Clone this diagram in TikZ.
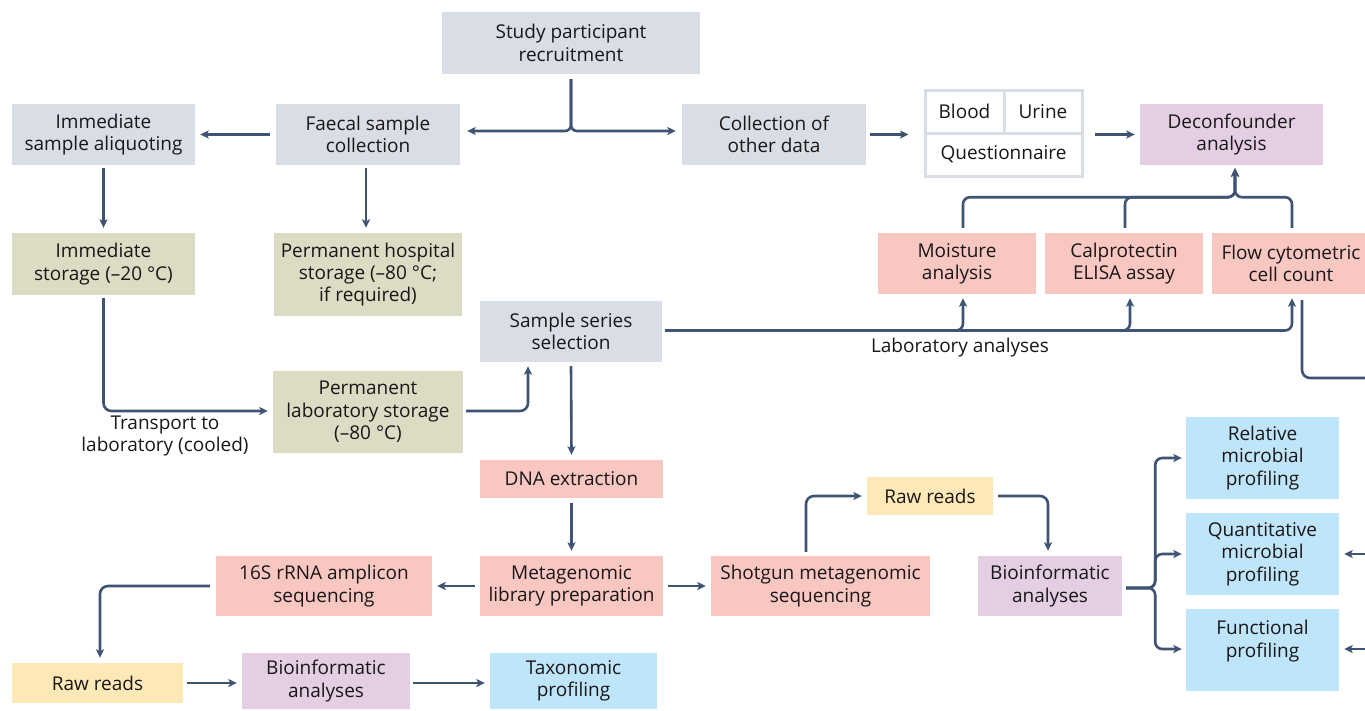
\documentclass[tikz,border=0pt]{standalone}
\usepackage{fontspec}
\setmainfont{Open Sans}
\usetikzlibrary{arrows.meta,calc}
\definecolor{cgray}{HTML}{D9DDE6}
\definecolor{khaki}{HTML}{DCDBC3}
\definecolor{salmon}{HTML}{F9C7C1}
\definecolor{lav}{HTML}{E3CEE4}
\definecolor{cyell}{HTML}{FDE8B8}
\definecolor{cblue}{HTML}{BEE5F9}
\definecolor{ln}{HTML}{3F5373}
\definecolor{txt}{HTML}{1A1718}
\begin{document}
\begin{tikzpicture}[x=1pt,y=-1pt,
  box/.style={inner sep=0pt, align=center, text=txt, font=\fontsize{19}{22.3}\selectfont},
  lbl/.style={inner sep=0pt, align=center, text=txt, font=\fontsize{19}{22.3}\selectfont},
  cell/.style={box, draw=cgray, line width=3pt},
  arr/.style={draw=ln, line width=2.6pt, -{Stealth[length=8.5pt,width=8pt,inset=2pt]}},
  ln/.style={draw=ln, line width=2.6pt}]
\useasboundingbox (0,0) rectangle (1365,710);
\fill[white] (0,0) rectangle (1365,710);

% nodes
\node[box, fill=cgray, minimum width=258, minimum height=62] (study) at (571,43) {Study participant\\recruitment};
\node[box, fill=cgray, minimum width=183, minimum height=61] (aliq) at (103.5,134.5) {Immediate\\sample aliquoting};
\node[box, fill=cgray, minimum width=184, minimum height=61] (faecal) at (368,134.5) {Faecal sample\\collection};
\node[box, fill=cgray, minimum width=184, minimum height=61] (other) at (774,134.5) {Collection of\\other data};
\node[cell, minimum width=79, minimum height=43] (blood) at (964.5,111.5) {Blood};
\node[cell, minimum width=78, minimum height=43] (urine) at (1043,111.5) {Urine};
\node[cell, minimum width=157, minimum height=43] (quest) at (1003.5,154.5) {Questionnaire};
\node[box, fill=lav, minimum width=183, minimum height=61] (deconf) at (1231.5,134.5) {Deconfounder\\analysis};
\node[box, fill=khaki, minimum width=183, minimum height=62] (istore) at (103.5,264) {Immediate\\storage (–20 °C)};
\node[box, fill=khaki, minimum width=188, minimum height=83] (hstore) at (368,274.5) {Permanent hospital\\storage (–80 °C;\\if required)};
\node[box, fill=salmon, minimum width=158, minimum height=61] (moist) at (957,263.5) {Moisture\\analysis};
\node[box, fill=salmon, minimum width=158, minimum height=61] (calpro) at (1124,263.5) {Calprotectin\\ELISA assay};
\node[box, fill=salmon, minimum width=158, minimum height=61] (flow) at (1291,263.5) {Flow cytometric\\cell count};
\node[box, fill=cgray, minimum width=182, minimum height=61] (series) at (571,331.5) {Sample series\\selection};
\node[lbl] (labl) at (960,348) {Laboratory analyses};
\node[box, fill=khaki, minimum width=190, minimum height=82] (lstore) at (368,412) {Permanent\\laboratory storage\\(–80 °C)};
\node[lbl] (transp) at (165,436) {Transport to\\laboratory (cooled)};
\node[box, fill=salmon, minimum width=183, minimum height=38] (dna) at (571.5,479) {DNA extraction};
\node[box, fill=salmon, minimum width=183, minimum height=60] (meta) at (571.5,586) {Metagenomic\\library preparation};
\node[box, fill=salmon, minimum width=216, minimum height=60] (s16) at (324,586) {16S rRNA amplicon\\sequencing};
\node[box, fill=salmon, minimum width=219, minimum height=60] (shot) at (820.5,586) {Shotgun metagenomic\\sequencing};
\node[box, fill=cyell, minimum width=126, minimum height=38] (raw1) at (930,496) {Raw reads};
\node[box, fill=lav, minimum width=144, minimum height=60] (bio1) at (1050,586) {Bioinformatic\\analyses};
\node[box, fill=cblue, minimum width=153, minimum height=82] (rel) at (1262.5,458) {Relative\\microbial\\profiling};
\node[box, fill=cblue, minimum width=153, minimum height=82] (quant) at (1262.5,554) {Quantitative\\microbial\\profiling};
\node[box, fill=cblue, minimum width=153, minimum height=82] (func) at (1262.5,650) {Functional\\profiling\\\mbox{}};
\node[box, fill=cyell, minimum width=171, minimum height=40] (raw2) at (97.5,683) {Raw reads};
\node[box, fill=lav, minimum width=168, minimum height=56] (bio2) at (326,681) {Bioinformatic\\analyses};
\node[box, fill=cblue, minimum width=167, minimum height=56] (tax) at (573.5,681) {Taxonomic\\profiling};

\coordinate (eR1) at (1370,378);
\coordinate (eR2) at (1370,554);
\coordinate (eR3) at (1370,649);
\coordinate (br) at ($(bio1.east)+(33,2)$);
\coordinate (mrg) at ($(deconf.south)+(3.5,32)$);

% connectors
\draw[arr, rounded corners=6] ($(study.south)+(0,5)$) |- ($(faecal.east)+(7,-3.5)$);
\draw[arr, rounded corners=6] ($(study.south)+(0,5)$) |- ($(other.west)+(-6,-3.5)$);
\draw[arr] ($(faecal.west)+(-6,0)$) -- ($(aliq.east)+(5,0)$);
\draw[arr] ($(other.east)+(4,0)$) -- ($(quest.west |- other.east)+(-15,0)$);
\draw[arr] ($(urine.east |- deconf.west)+(11,0)$) -- ($(deconf.west)+(-5,0)$);
\draw[arr] ($(aliq.south)+(0,3)$) -- ($(istore.north)+(0,-5)$);
\draw[arr] ($(faecal.south)+(-2,3)$) -- ($(hstore.north)+(-2,-5)$);
\draw[arr, rounded corners=8] ($(istore.south)+(0,3)$) |- ($(lstore.west)+(-5,-1)$);
\draw[arr, rounded corners=8] ($(lstore.east)+(3,-1)$) -| ($(series.south)+(-43,4)$);
\draw[arr, rounded corners=7] ($(series.east)+(3,-1)$) -| ($(moist.south)+(6,4)$);
\draw[arr, rounded corners=7] ($(series.east)+(3,-1)$) -| ($(calpro.south)+(6,4)$);
\draw[arr, rounded corners=7] ($(series.east)+(3,-1)$) -| ($(flow.south)+(1,4)$);
\draw[ln, rounded corners=8] ($(flow.south)+(11,6)$) |- (eR1);
\draw[arr, rounded corners=7] ($(moist.north)+(6,-5)$) |- (mrg) -- ($(deconf.south)+(3.5,3)$);
\draw[arr, rounded corners=7] ($(calpro.north)+(1,-5)$) |- (mrg) -- ($(deconf.south)+(3.5,3)$);
\draw[arr, rounded corners=7] ($(flow.north)+(1,-5)$) |- (mrg) -- ($(deconf.south)+(3.5,3)$);
\draw[arr] ($(series.south)+(0,4)$) -- ($(dna.north)+(0,-5)$);
\draw[arr] ($(dna.south)+(0,5)$) -- ($(meta.north)+(0,-5)$);
\draw[arr] ($(meta.west)+(-5,0)$) -- ($(s16.east)+(5,0)$);
\draw[arr] ($(meta.east)+(5,0)$) -- ($(shot.west)+(-5,0)$);
\draw[arr, rounded corners=8] ($(shot.north)+(-14.5,-4)$) |- ($(raw1.west)+(-5,0)$);
\draw[arr, rounded corners=8] ($(raw1.east)+(5,0)$) -| ($(bio1.north)+(-2,-5)$);
\draw[arr, rounded corners=8] ($(s16.west)+(-6,0)$) -| ($(raw2.north)+(2.5,-5)$);
\draw[arr] ($(raw2.east)+(4,0)$) -- ($(bio2.west)+(-5,2)$);
\draw[arr] ($(bio2.east)+(3,2)$) -- ($(tax.west)+(-5,2)$);
\draw[arr, rounded corners=7] ($(bio1.east)+(4,2)$) -- (br) |- ($(rel.west)+(-4,0)$);
\draw[arr, rounded corners=7] ($(bio1.east)+(4,2)$) -- (br) |- ($(quant.west)+(-4,0)$);
\draw[arr, rounded corners=7] ($(bio1.east)+(4,2)$) -- (br) |- ($(func.west)+(-4,-1)$);
\draw[arr] (eR2) -- ($(quant.east)+(5,0)$);
\draw[arr] (eR3) -- ($(func.east)+(5,-1)$);
\end{tikzpicture}
\end{document}
